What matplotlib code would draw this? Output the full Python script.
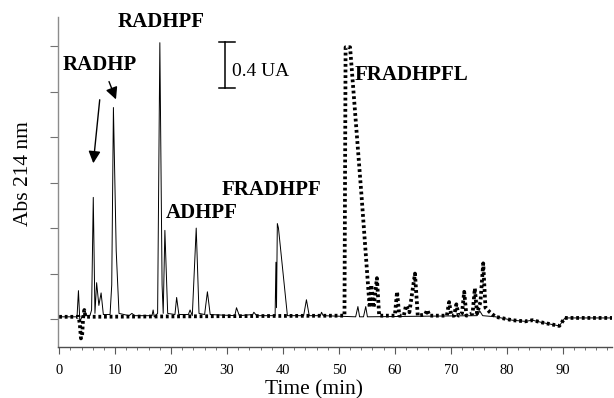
import numpy as np
import matplotlib
matplotlib.use("Agg")
import matplotlib.pyplot as plt

# thin trace (time in min, absorbance in UA)
t_thin = [0.0, 3.2, 3.45, 3.7, 4.2, 5.5, 5.8, 6.1, 6.4, 6.7, 7.1, 7.5, 7.9,
          9.1, 9.4, 9.7, 10.2, 10.7, 12.5, 13.0, 13.5, 16.6, 16.8, 17.0, 17.6,
          18.0, 18.4, 18.6, 18.9, 19.4, 20.7, 21.0, 21.4, 23.1, 23.4, 23.8,
          24.5, 25.0, 26.0, 26.5, 27.0, 31.4, 31.7, 32.2, 34.6, 34.8, 35.3,
          38.6, 38.75, 38.85, 39.0, 39.2, 40.8, 43.7, 44.2, 44.7, 46.7, 46.9,
          47.2, 53.0, 53.4, 53.7, 54.4, 54.8, 55.1, 74.7, 75.2, 75.7, 78.0,
          81.0, 83.3, 84.6, 86.3, 89.4, 90.4, 91.0, 99.0]
a_thin = [0.02, 0.02, 0.25, -0.02, 0.03, 0.03, 0.08, 1.07, 0.05, 0.32, 0.12,
          0.23, 0.04, 0.04, 0.3, 1.86, 0.6, 0.05, 0.03, 0.05, 0.03, 0.03, 0.08,
          0.02, 0.05, 2.43, 0.3, 0.05, 0.78, 0.05, 0.04, 0.19, 0.04, 0.04,
          0.08, 0.03, 0.8, 0.05, 0.04, 0.24, 0.04, 0.03, 0.1, 0.03, 0.04, 0.06,
          0.03, 0.03, 0.5, 0.1, 0.84, 0.8, 0.03, 0.03, 0.17, 0.03, 0.03, 0.06,
          0.03, 0.02, 0.11, 0.02, 0.02, 0.11, 0.02, 0.03, 0.07, 0.03, 0.02,
          -0.01, -0.02, -0.01, -0.03, -0.06, 0.01, 0.01, 0.01]

# dotted trace (FRADHPFL run)
t_dot = [0.0, 3.5, 3.7, 3.9, 4.1, 4.3, 4.5, 4.7, 51.0, 51.2, 52.0, 54.1,
         55.5, 55.8, 56.2, 56.8, 57.2, 60.0, 60.4, 60.8, 61.6, 62.0, 62.6,
         63.6, 64.1, 65.4, 65.8, 66.2, 69.3, 69.7, 70.1, 70.6, 71.0, 71.4,
         72.0, 72.4, 72.8, 73.9, 74.3, 74.7, 75.3, 75.8, 76.2, 77.0, 78.0,
         81.0, 83.3, 84.6, 86.3, 89.4, 90.4, 91.0, 99.0]
a_dot = [0.02, 0.02, -0.05, -0.17, -0.15, 0.02, 0.08, 0.02, 0.03, 2.39,
         2.39, 1.05, 0.1, 0.3, 0.1, 0.36, 0.03, 0.03, 0.24, 0.03, 0.03, 0.12,
         0.06, 0.4, 0.03, 0.04, 0.08, 0.03, 0.03, 0.15, 0.03, 0.03, 0.13,
         0.03, 0.05, 0.24, 0.03, 0.05, 0.27, 0.05, 0.15, 0.49, 0.1, 0.06,
         0.02, -0.01, -0.02, -0.01, -0.03, -0.06, 0.01, 0.01, 0.01]

x_ticks = [0, 10, 20, 30, 40, 50, 60, 70, 80, 90]

serif = ["Liberation Serif", "DejaVu Serif"]
plt.rcParams["font.family"] = serif

fig = plt.figure(figsize=(6.14, 3.98), dpi=100)
ax = fig.add_axes([0.0945, 0.128, 0.903, 0.829])

ax.plot(t_thin, a_thin, color="black", lw=0.7)
ax.plot(t_dot, a_dot, color="black", lw=2.7, linestyle=(0, (0.75, 0.75)))

ax.set_xlim(-0.2, 98.9)
ax.set_ylim(-0.246, 2.655)
ax.set_xticks(x_ticks)
ax.set_xticks(np.arange(0, 99, 2), minor=True)
ax.set_yticks([0, 0.4, 0.8, 1.2, 1.6, 2.0, 2.4])
ax.set_yticklabels([])
ax.tick_params(axis="x", direction="out", length=5, width=0.8, colors="0.35",
               labelcolor="black", labelsize=10.5, pad=7)
ax.tick_params(axis="x", which="minor", direction="out", length=2.5,
               width=0.6, colors="0.35")
ax.tick_params(axis="y", direction="out", length=6, width=0.8, colors="0.45")

for s in ["top", "right"]:
    ax.spines[s].set_visible(False)
ax.spines["left"].set_color("0.55")
ax.spines["bottom"].set_color("0.3")
ax.spines["left"].set_linewidth(1.0)
ax.spines["bottom"].set_linewidth(1.0)

ax.set_xlabel("Time (min)", fontsize=15.5)
ax.xaxis.set_label_coords(0.462, -0.1)
ax.set_ylabel("Abs 214 nm", fontsize=15.5)
ax.yaxis.set_label_coords(-0.045, 0.527)

bold = dict(fontsize=15, fontweight="bold", transform=fig.transFigure)
fig.text(118 / 614, 1 - 22 / 398, "RADHPF", va="center", ha="left", **bold)
fig.text(63 / 614, 1 - 65 / 398, "RADHP", va="center", ha="left", **bold)
fig.text(166 / 614, 1 - 213 / 398, "ADHPF", va="center", ha="left", **bold)
fig.text(222 / 614, 1 - 190 / 398, "FRADHPF", va="center", ha="left", **bold)
fig.text(355 / 614, 1 - 75 / 398, "FRADHPFL", va="center", ha="left", **bold)
fig.text(232 / 614, 1 - 72 / 398, "0.4 UA", va="center", ha="left",
         fontsize=14)

# scale bar 0.4 UA
ax.plot([29.6, 29.6], [2.03, 2.44], color="black", lw=1.1)
ax.plot([28.5, 31.4], [2.44, 2.44], color="black", lw=1.1)
ax.plot([28.5, 31.4], [2.03, 2.03], color="black", lw=1.1)

# arrows to RADHP peaks
ax.annotate("", xy=(93 / 614, 1 - 166 / 398), xycoords="figure fraction",
            xytext=(100 / 614, 1 - 97 / 398), textcoords="figure fraction",
            arrowprops=dict(arrowstyle="-|>", color="black", lw=1.0,
                            mutation_scale=18))
ax.annotate("", xy=(117 / 614, 1 - 102 / 398), xycoords="figure fraction",
            xytext=(108 / 614, 1 - 79 / 398), textcoords="figure fraction",
            arrowprops=dict(arrowstyle="-|>", color="black", lw=1.0,
                            mutation_scale=18))

fig.savefig("out.png", dpi=100)
